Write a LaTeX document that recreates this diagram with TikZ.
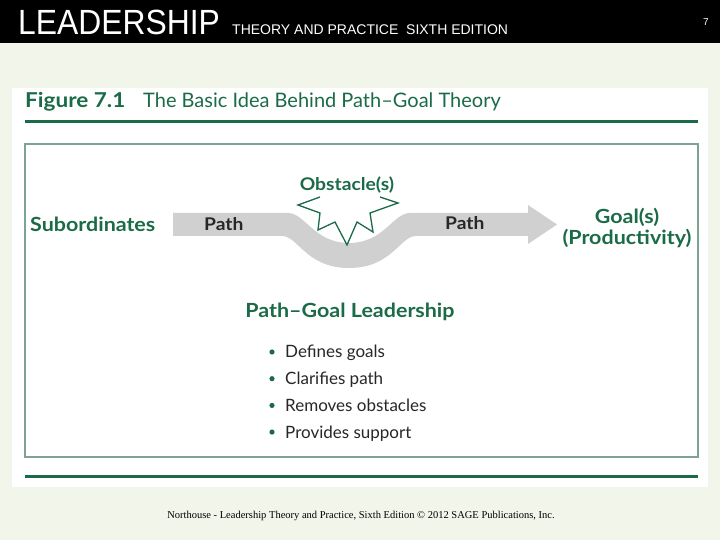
\documentclass[tikz,border=0pt]{standalone}
\usepackage{fontspec}
\setmainfont{Lato}
\newfontfamily\widefont{Lato}[FakeStretch=1.1]
\newfontfamily\headfont{Liberation Sans}[FakeStretch=0.91]
\newfontfamily\smallheadfont{Liberation Sans}
\newfontfamily\footfont{Liberation Serif}
\usetikzlibrary{positioning, calc}

\definecolor{sagegreen}{HTML}{1B6B48}
\definecolor{boxline}{HTML}{7EA294}
\definecolor{pathgray}{HTML}{D0D0D0}
\definecolor{bgtint}{HTML}{F2F5EA}
\definecolor{bodytext}{HTML}{2A2626}

\tikzset{
  greenlabel/.style={text=sagegreen, font=\widefont\bfseries\fontsize{19.5}{21}\selectfont, inner sep=0pt},
  pathlabel/.style={text=bodytext, font=\widefont\bfseries\fontsize{17.5}{19}\selectfont, inner sep=0pt, anchor=base west},
  bulletitem/.style={text=bodytext, font=\fontsize{17}{19}\selectfont, inner sep=0pt, anchor=base west},
}

\begin{document}
\begin{tikzpicture}[x=1pt, y=1pt]
    % Background, header bar and panel
    \fill[bgtint] (0,0) rectangle (720,540);
    \fill[black] (0,497) rectangle (720,540);
    \fill[white] (12,53) rectangle (708,452);

    % Header texts
    \node [text=white, font=\headfont\fontsize{35}{36}\selectfont, inner sep=0pt, anchor=base west] (leadership) at (18,505) {LEADERSHIP};
    \node [text=white, font=\smallheadfont\fontsize{14}{16}\selectfont, inner sep=0pt, anchor=base west] (edition) at (232,505) {THEORY AND PRACTICE\ \ SIXTH EDITION};
    \node [text=white, font=\smallheadfont\fontsize{10}{11}\selectfont, inner sep=0pt, anchor=base] (pagenum) at (706,514) {7};

    % Figure title and rules
    \node [text=sagegreen, font=\widefont\bfseries\fontsize{20.5}{22}\selectfont, inner sep=0pt, anchor=base west] (figno) at (25,432) {Figure 7.1};
    \node [text=sagegreen, font=\fontsize{20}{22}\selectfont, inner sep=0pt, anchor=base west] (figtitle) at (143,432) {The Basic Idea Behind Path\textendash Goal Theory};
    \draw[sagegreen, line width=3pt] (25,418) -- (698,418);
    \draw[boxline, line width=1.8pt] (25,396) rectangle (698,83);
    \draw[sagegreen, line width=3pt] (25,63) -- (698,63);

    % Path band with dip and arrow head
    \fill[pathgray] (173,327) -- (288,327) .. controls (305,327) and (314,297) .. (349,297)
        .. controls (384,297) and (393,327) .. (410,327) -- (528,327) -- (528,335)
        -- (557,315.5) -- (528,296) -- (528,304) -- (416,304) .. controls (400,304) and (392,272) .. (349,272)
        .. controls (306,272) and (298,304) .. (282,304) -- (173,304) -- cycle;

    % Obstacle star
    \fill[white] (320,343) -- (298,335) -- (320,327) -- (318,310) -- (335,318) -- (347,295)
        -- (357,318) -- (373,308) -- (370,327) -- (398,337) -- (380,343) -- cycle;
    \draw[sagegreen, line width=1.3pt, line join=miter] (320,343) -- (298,335) -- (320,327) -- (318,310) -- (335,318) -- (347,295)
        -- (357,318) -- (373,308) -- (370,327) -- (398,337) -- (380,343);

    % Define nodes
    \node [greenlabel, anchor=base west] (subordinates) at (30,308) {Subordinates};
    \node [pathlabel] (pathleft) at (204,309) {Path};
    \node [pathlabel] (pathright) at (445,310) {Path};
    \node [greenlabel, font=\widefont\bfseries\fontsize{17.5}{19}\selectfont, anchor=base] (obstacle) at (347,349) {Obstacle(s)};
    \node [greenlabel, align=center] (goal) at (627,312) {Goal(s)\\(Productivity)};
    \node [greenlabel, anchor=base] (leader) at (350,222) {Path\textendash Goal Leadership};

    % Bullet list
    \foreach \txt [count=\i] in {Defines goals, Clarifies path, Removes obstacles, Provides support} {
        \node [bulletitem] (item\i) at (285,{182-26.7*(\i-1)}) {\txt};
        \fill[sagegreen] ($(item\i.base west)+(-13,6)$) circle (2.6);
    }

    % Footer
    \node [font=\footfont\fontsize{10.5}{12}\selectfont, inner sep=0pt, anchor=base] (footer) at (361,21) {Northouse - Leadership Theory and Practice, Sixth Edition \textcopyright\ 2012 SAGE Publications, Inc.};
\end{tikzpicture}
\end{document}
